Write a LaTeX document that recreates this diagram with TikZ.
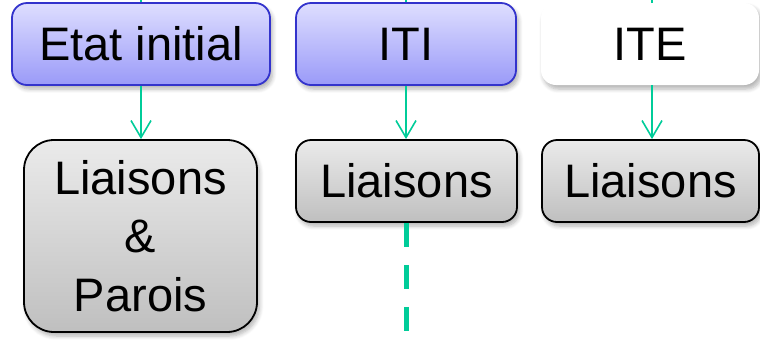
\documentclass[tikz,border=0pt]{standalone}
\usepackage{fontspec}
\setmainfont{Liberation Sans}
\usetikzlibrary{arrows.meta, shadows.blur}

\definecolor{flowGreen}{HTML}{00CC99}
\definecolor{blueTop}{HTML}{DEDEFF}
\definecolor{blueBot}{HTML}{9A9AF8}
\definecolor{blueLine}{HTML}{3333CC}

\begin{document}
\begin{tikzpicture}[
    x=0.5pt, y=-0.5pt, every node/.style={font=\fontsize{23.5}{29.2}\selectfont, align=center, inner sep=0pt},
    softShadow/.style={blur shadow={shadow xshift=1.2pt, shadow yshift=-2pt, shadow blur steps=6, shadow opacity=30}},
    bNode/.style={rectangle, rounded corners=7.5pt, draw=blueLine, line width=0.9pt, top color=blueTop, bottom color=blueBot, minimum height=41pt, softShadow},
    wNode/.style={rectangle, rounded corners=7.5pt, fill=white, minimum height=41pt, softShadow},
    gNode/.style={rectangle, rounded corners=7.5pt, draw=black, line width=0.9pt, top color=black!8, bottom color=black!25, minimum height=41pt, softShadow},
    flow/.style={draw=flowGreen, line width=0.8pt},
    arr/.style={flow, -{Straight Barb[length=8.5pt, width=10pt, line width=0.8pt]}}
]
    \useasboundingbox (0,0) rectangle (760,339);

    % top row
    \node[bNode, minimum width=129pt] (etat) at (141,44) {Etat initial};
    \node[bNode, minimum width=110pt] (iti) at (406,44) {ITI};
    \node[wNode, minimum width=109pt] (ite) at (650,44) {ITE};

    % bottom row
    \node[gNode, minimum width=116.5pt, minimum height=96pt, rounded corners=15pt] (lp) at (140.5,236) {Liaisons\\\&\\Parois};
    \node[gNode, minimum width=110.5pt] (liti) at (406.5,181) {Liaisons};
    \node[gNode, minimum width=108.5pt] (lite) at (650.5,181) {Liaisons};

    \coordinate (inEtat) at (141,0);
    \coordinate (inIti) at (406,0);
    \coordinate (inIte) at (652,0);
    \coordinate (outIti) at (406,339);

    \draw[flow] (inEtat) -- (etat.north);
    \draw[flow] (inIti) -- (iti.north);
    \draw[flow] (inIte) -- (inIte |- ite.north);

    \draw[arr] (etat.south) -- (etat.south |- lp.north);
    \draw[arr] (iti.south) -- (iti.south |- liti.north);
    \draw[arr] (inIte |- ite.south) -- (inIte |- lite.north);

    \draw[flow, line width=2.5pt, dash pattern=on 12pt off 9pt] (liti.south) -- (liti.south |- outIti);
\end{tikzpicture}
\end{document}
